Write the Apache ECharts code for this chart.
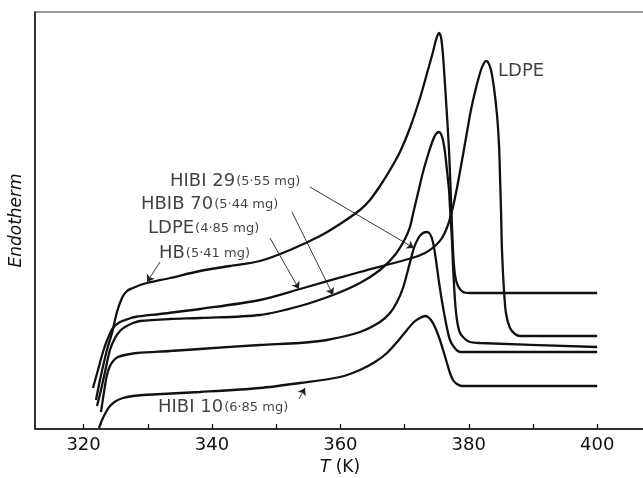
<!DOCTYPE html>
<html>
<head>
<meta charset="utf-8">
<script src="https://cdn.jsdelivr.net/npm/echarts@6/dist/echarts.min.js"></script>
<style>
  html, body { margin: 0; padding: 0; background: #fff; }
  #chart { width: 643px; height: 478px; }
</style>
</head>
<body>
<div id="chart"></div>
<script>
// DSC melting endotherms, heat flow in arbitrary units vs temperature (K)
const hbCurve = [
  [321.93, 29], [322.55, 49], [323.18, 67], [323.64, 79], [324.42, 96], [325.20, 117],
  [325.98, 131], [326.76, 138], [327.69, 141], [328.79, 144], [329.88, 146], [333.46, 151],
  [338.13, 158], [342.80, 163], [347.48, 168], [352.15, 179], [356.82, 193], [359.94, 205],
  [363.05, 219], [364.61, 229], [366.17, 243], [367.73, 259], [369.28, 277], [370.84, 301],
  [372.40, 331], [373.64, 359], [374.42, 377], [374.89, 389], [375.36, 396], [375.67, 392],
  [375.98, 374], [376.45, 329], [376.92, 279], [377.23, 229], [377.54, 179], [377.85, 154],
  [378.32, 143], [379.10, 137], [380.19, 136], [400, 136]
];
const ldpeCurve = [
  [321.46, 41], [322.24, 59], [323.02, 77], [323.80, 91], [324.58, 101], [325.67, 107],
  [326.92, 110], [328.01, 112], [331.90, 115], [338.13, 120], [347.48, 129], [353.71, 140],
  [363.05, 157], [371.15, 171], [373.18, 176], [374.74, 183], [375.83, 191], [376.76, 204],
  [377.54, 222], [378.16, 241], [378.79, 263], [379.56, 291], [380.34, 319], [381.12, 341],
  [381.90, 359], [382.37, 366], [382.68, 368], [382.99, 367], [383.46, 359], [383.93, 341],
  [384.40, 314], [384.71, 284], [384.86, 254], [385.02, 219], [385.17, 179], [385.48, 139],
  [385.79, 116], [386.42, 101], [387.20, 95], [387.98, 93], [400, 93]
];
const hbib70Curve = [
  [322.09, 23], [322.71, 39], [323.33, 57], [324.11, 79], [324.89, 91], [325.67, 98],
  [326.45, 102], [327.69, 106], [328.79, 108], [333.46, 110], [338.13, 111], [347.48, 114],
  [353.71, 123], [358.85, 134], [363.05, 146], [366.17, 159], [368.50, 174], [370.06, 190],
  [370.84, 202], [371.31, 215], [372.09, 236], [372.87, 257], [373.64, 274], [374.42, 289],
  [374.89, 295], [375.36, 297], [375.67, 295], [375.98, 289], [376.29, 277], [376.60, 259],
  [376.92, 239], [377.07, 222], [377.38, 189], [377.54, 164], [377.85, 129], [378.16, 109],
  [378.63, 96], [379.41, 90], [380.19, 87], [381.74, 86], [400, 82]
];
const hibi29Curve = [
  [322.71, 17], [323.18, 37], [323.64, 54], [324.11, 63], [324.74, 69], [325.36, 72],
  [326.45, 74], [328.32, 76], [333.46, 78], [338.13, 80], [347.48, 84], [353.71, 86],
  [357.91, 89], [363.05, 97], [366.17, 107], [367.73, 116], [368.82, 127], [369.75, 141],
  [370.53, 159], [371.46, 181], [372.24, 192], [372.87, 196], [373.49, 197], [373.96, 195],
  [374.42, 187], [374.89, 169], [375.36, 147], [375.98, 122], [376.60, 101], [377.07, 89],
  [377.69, 82], [378.63, 77], [400, 77]
];
const hibi10Curve = [
  [322.40, 1], [322.87, 9], [323.49, 17], [324.11, 23], [325.05, 28], [326.14, 31],
  [327.69, 33], [329.25, 34], [338.13, 37], [347.48, 41], [353.71, 46], [359.94, 52],
  [363.05, 59], [365.39, 67], [367.26, 76], [368.97, 88], [370.37, 99], [371.46, 107],
  [372.40, 111], [373.18, 113], [373.64, 112], [374.11, 109], [374.73, 102], [375.51, 89],
  [376.14, 76], [376.60, 66], [377.07, 56], [377.54, 49], [378.16, 45], [378.94, 43], [400, 43]
];

// Tick values on the temperature axis
const majorTicks = [320, 340, 360, 380, 400];
const allTicks = [320, 330, 340, 350, 360, 370, 380, 390, 400];

// Sample labels: name, mass, anchor point [T, y]
const sampleNames = ['HIBI 29', 'HBIB 70', 'LDPE', 'HB', 'HIBI 10', 'LDPE'];
const sampleMasses = ['(5·55 mg)', '(5·44 mg)', '(4·85 mg)', '(5·41 mg)', '(6·85 mg)', ''];
const labelAnchors = [
  [333.46, 248], [328.94, 225], [330.03, 201], [331.74, 176], [331.59, 22], [384.55, 358]
];

// Pointer arrows from labels to curves: [start, end]
const pointerArrows = [
  [[355.26, 242], [371.46, 181]],
  [[352.46, 217], [358.85, 134]],
  [[349.03, 191], [353.55, 140]],
  [[331.90, 167], [329.88, 147]],
  [[353.55, 30], [354.49, 41]]
];

const FONT = 'DejaVu Sans';
const INK = '#111';

function curveSeries(name, data) {
  return {
    name: name,
    type: 'line',
    data: data,
    showSymbol: false,
    smooth: 0.3,
    lineStyle: { color: INK, width: 2.3 },
    z: 3
  };
}

const chart = echarts.init(document.getElementById('chart'), null, { renderer: 'canvas' });

chart.setOption({
  animation: false,
  backgroundColor: '#fff',
  grid: {
    left: 35, right: -2, top: 12, bottom: 49,
    containLabel: false,
    outerBoundsMode: 'none',
    show: true, borderColor: '#333', borderWidth: 1
  },
  xAxis: {
    type: 'value',
    min: 312.43,
    max: 407.45,
    name: '{i|T} (K)',
    nameLocation: 'middle',
    nameGap: 30,
    nameTextStyle: {
      fontFamily: FONT, fontSize: 17, color: INK,
      rich: { i: { fontFamily: FONT, fontSize: 17, fontStyle: 'italic', color: INK } }
    },
    axisLine: { show: true, lineStyle: { color: INK, width: 1.5 } },
    axisTick: { show: true, inside: true, length: 5, customValues: allTicks, lineStyle: { color: INK, width: 1.3 } },
    axisLabel: { customValues: majorTicks, margin: 7, fontFamily: FONT, fontSize: 18, color: INK },
    splitLine: { show: false }
  },
  yAxis: {
    type: 'value',
    min: 0,
    max: 417,
    name: 'Endotherm',
    nameLocation: 'middle',
    nameGap: 10,
    nameTextStyle: { fontFamily: FONT, fontSize: 17, fontStyle: 'italic', color: INK },
    axisLine: { show: true, lineStyle: { color: INK, width: 1.5 } },
    axisTick: { show: false },
    axisLabel: { show: false },
    splitLine: { show: false }
  },
  series: [
    curveSeries('HB', hbCurve),
    curveSeries('LDPE', ldpeCurve),
    curveSeries('HBIB 70', hbib70Curve),
    curveSeries('HIBI 29', hibi29Curve),
    curveSeries('HIBI 10', hibi10Curve),
    {
      type: 'lines',
      coordinateSystem: 'cartesian2d',
      polyline: false,
      symbol: ['none', 'arrow'],
      symbolSize: 7,
      lineStyle: { color: '#222', width: 0.9, opacity: 1 },
      data: pointerArrows.map(function (a) { return { coords: a }; }),
      z: 4
    },
    {
      type: 'scatter',
      symbolSize: 0,
      silent: true,
      data: labelAnchors.map(function (p, i) {
        return {
          value: p,
          label: {
            show: true,
            position: 'right',
            distance: 0,
            formatter: '{a|' + sampleNames[i] + '}' + (sampleMasses[i] ? '{b|' + sampleMasses[i] + '}' : ''),
            rich: {
              a: { fontFamily: FONT, fontSize: 18, color: INK },
              b: { fontFamily: FONT, fontSize: 13, color: INK, padding: [2, 0, 0, 1] }
            }
          }
        };
      }),
      z: 5
    }
  ]
});
</script>
</body>
</html>
